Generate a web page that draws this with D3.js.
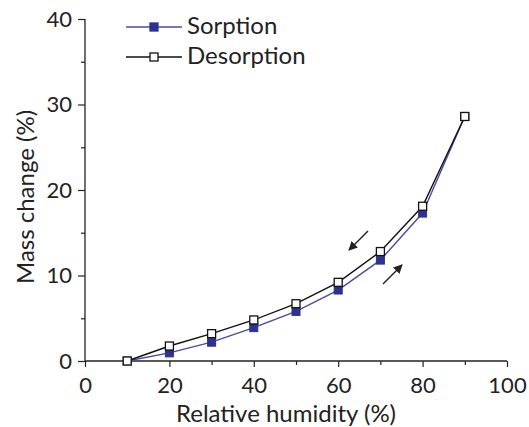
<!DOCTYPE html>
<html><head><meta charset="utf-8">
<script src="https://cdn.jsdelivr.net/npm/d3@7"></script>
<style>body{margin:0;background:#fff}svg{display:block}text{font-family:Lato,"Open Sans",sans-serif;fill:#222}</style>
</head><body><svg id="c" width="529" height="427"></svg>
<script>
const humidity = [10,20,30,40,50,60,70,80,90];
const sorption = [0,0.95,2.2,3.9,5.8,8.3,11.8,17.3,28.6];
const desorption = [0,1.75,3.2,4.8,6.7,9.2,12.8,18.1,28.6];
const xTicks = [0,20,40,60,80,100];
const yTicks = [0,10,20,30,40];
const seriesNames = ["Sorption","Desorption"];

const svg = d3.select("#c");
const x = d3.scaleLinear().domain([0,100]).range([85,507]);
const y = d3.scaleLinear().domain([0,40]).range([361,19]);

// axes
const xAx = svg.append("g").attr("transform","translate(0,361)")
  .call(d3.axisBottom(x).tickValues(d3.range(0,101,10)).tickSize(6).tickFormat(d=>xTicks.includes(d)?d:""));
xAx.selectAll(".tick line").attr("y2",d=>xTicks.includes(d)?6:4);
const yAx = svg.append("g").attr("transform","translate(85,0)")
  .call(d3.axisLeft(y).tickValues(d3.range(0,41,5)).tickSize(7).tickFormat(d=>yTicks.includes(d)?d:""));
yAx.selectAll(".tick line").attr("x2",d=>yTicks.includes(d)?-7:-4);
[xAx,yAx].forEach(g=>{
  g.select(".domain").attr("stroke","#222").attr("stroke-width",1.3).attr("d", g===xAx?"M85,0H507":"M0,19V361");
  g.selectAll(".tick line").attr("stroke","#222").attr("stroke-width",1.2);
  g.selectAll(".tick text").attr("font-size",22).style("font-family","Lato, 'Open Sans', sans-serif").attr("fill","#222");
});
xAx.selectAll(".tick text").attr("dy",0).attr("y",32);
yAx.selectAll(".tick text").attr("x",-13);

svg.append("text").attr("x",286).attr("y",422).attr("text-anchor","middle").attr("font-size",24).text("Relative humidity (%)");
svg.append("text").attr("transform","translate(34,197) rotate(-90)").attr("text-anchor","middle").attr("font-size",24).text("Mass change (%)");

const line = d3.line().x(d=>x(d[0])).y(d=>y(d[1]));
const sPts = humidity.map((h,i)=>[h,sorption[i]]);
const dPts = humidity.map((h,i)=>[h,desorption[i]]);
const blue="#2e3192", blueLine="#4a4aa8";
svg.append("path").datum(sPts).attr("d",line).attr("fill","none").attr("stroke",blueLine).attr("stroke-width",1.4);
svg.append("path").datum(dPts).attr("d",line).attr("fill","none").attr("stroke","#111").attr("stroke-width",1.4);
const sz=8;
svg.append("g").selectAll("rect").data(sPts).join("rect")
  .attr("x",d=>x(d[0])-sz/2).attr("y",d=>y(d[1])-sz/2).attr("width",sz).attr("height",sz)
  .attr("fill",blue).attr("stroke",blue).attr("stroke-width",1);
svg.append("g").selectAll("rect").data(dPts).join("rect")
  .attr("x",d=>x(d[0])-sz/2).attr("y",d=>y(d[1])-sz/2).attr("width",sz).attr("height",sz)
  .attr("fill","#fff").attr("stroke","#111").attr("stroke-width",1.3);

// legend
const leg = [{n:seriesNames[0],c:blueLine,f:blue,s:blue,yy:27},{n:seriesNames[1],c:"#111",f:"#fff",s:"#111",yy:57}];
leg.forEach(l=>{
  svg.append("line").attr("x1",126).attr("x2",182).attr("y1",l.yy).attr("y2",l.yy).attr("stroke",l.c).attr("stroke-width",1.4);
  svg.append("rect").attr("x",154-sz/2).attr("y",l.yy-sz/2).attr("width",sz).attr("height",sz).attr("fill",l.f).attr("stroke",l.s).attr("stroke-width",1.3);
  svg.append("text").attr("x",187).attr("y",l.yy+7).attr("font-size",24).text(l.n);
});

// arrows
const defs=svg.append("defs");
defs.append("marker").attr("id","ah").attr("viewBox","0 0 10 10").attr("refX",9).attr("refY",5)
  .attr("markerWidth",6).attr("markerHeight",6).attr("orient","auto")
  .append("path").attr("d","M0,0L10,5L0,10z").attr("fill","#222");
svg.append("line").attr("x1",368).attr("y1",231).attr("x2",349).attr("y2",250).attr("stroke","#222").attr("stroke-width",1.5).attr("marker-end","url(#ah)");
svg.append("line").attr("x1",383).attr("y1",284).attr("x2",402).attr("y2",265).attr("stroke","#222").attr("stroke-width",1.5).attr("marker-end","url(#ah)");
</script></body></html>
